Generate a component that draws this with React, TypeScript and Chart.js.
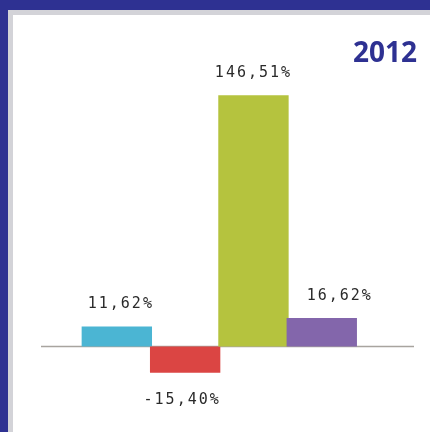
import React, { useEffect, useRef } from "react";
import { Chart, registerables } from "chart.js";

Chart.register(...registerables);

const TITLE = "2012";
const SERIES_VALUES = [11.62, -15.4, 146.51, 16.62];
const SERIES_POSITIONS = [0, 1, 2, 3];
const SERIES_COLORS = ["#4bb5d3", "#db4543", "#b5c33e", "#8366ab"];
const LABEL_X_SHIFT = [4, -3, 0, 18];
const Y_MIN = -40;
const Y_MAX = 170;
const X_MIN = -1.11;
const X_MAX = 4.35;

const fmt = (v: number) => v.toFixed(2).replace(".", ",") + "%";

const zeroLinePlugin = {
  id: "zeroLine",
  beforeDatasetsDraw(chart: any) {
    const { ctx, chartArea } = chart;
    const y0 = chart.scales.y.getPixelForValue(0);
    ctx.save();
    ctx.strokeStyle = "#a8a49f";
    ctx.lineWidth = 1.5;
    ctx.beginPath();
    ctx.moveTo(chartArea.left, y0);
    ctx.lineTo(chartArea.right, y0);
    ctx.stroke();
    ctx.restore();
  },
};

const valueLabelPlugin = {
  id: "valueLabels",
  afterDatasetsDraw(chart: any) {
    const { ctx } = chart;
    const meta = chart.getDatasetMeta(0);
    ctx.save();
    ctx.font = "15px 'DejaVu Sans Mono'";
    (ctx as any).letterSpacing = "2px";
    ctx.fillStyle = "#2a2a2a";
    ctx.textAlign = "center";
    ctx.textBaseline = "middle";
    meta.data.forEach((bar: any, i: number) => {
      const p = bar.getProps(["x", "y", "base"], true);
      const v = SERIES_VALUES[i];
      const ty = v >= 0 ? Math.min(p.y, p.base) - 22 : Math.max(p.y, p.base) + 27;
      ctx.fillText(fmt(v), p.x + LABEL_X_SHIFT[i], ty);
    });
    ctx.restore();
  },
};

export default function App() {
  const ref = useRef<HTMLCanvasElement | null>(null);

  useEffect(() => {
    if (!ref.current) return;
    const chart = new Chart(ref.current, {
      type: "bar",
      data: {
        datasets: [
          {
            data: SERIES_VALUES.map((v, i) => ({ x: SERIES_POSITIONS[i], y: v })),
            backgroundColor: SERIES_COLORS,
            borderWidth: 0,
            barPercentage: 1.03,
            categoryPercentage: 1,
          } as any,
        ],
      },
      options: {
        responsive: false,
        animation: false,
        layout: { padding: { left: 41, right: 16, top: 55, bottom: 17 } },
        plugins: {
          legend: { display: false },
          tooltip: { enabled: false },
          title: { display: false },
        },
        scales: {
          x: { type: "linear", min: X_MIN, max: X_MAX, offset: false, display: false },
          y: { min: Y_MIN, max: Y_MAX, display: false },
        },
      },
      plugins: [zeroLinePlugin, valueLabelPlugin],
    });
    return () => chart.destroy();
  }, []);

  return (
    <div
      style={{
        position: "fixed",
        left: 0,
        top: 0,
        width: 430,
        height: 432,
        background: "#2e3192",
        overflow: "hidden",
      }}
    >
      <div
        style={{
          position: "absolute",
          left: 8,
          top: 10,
          right: 0,
          bottom: 0,
          background: "#d3d3d8",
        }}
      >
        <div
          style={{
            position: "absolute",
            left: 5,
            top: 5,
            right: 0,
            bottom: 0,
            background: "#ffffff",
          }}
        />
      </div>
      <canvas
        ref={ref}
        width={430}
        height={432}
        style={{ position: "absolute", left: 0, top: 0, width: 430, height: 432, display: "block" }}
      />
      <div
        style={{
          position: "absolute",
          right: 13,
          top: 32,
          fontFamily: "'Open Sans', sans-serif",
          fontWeight: 700,
          fontSize: 28,
          lineHeight: "normal",
          color: "#2e3192",
        }}
      >
        {TITLE}
      </div>
    </div>
  );
}
